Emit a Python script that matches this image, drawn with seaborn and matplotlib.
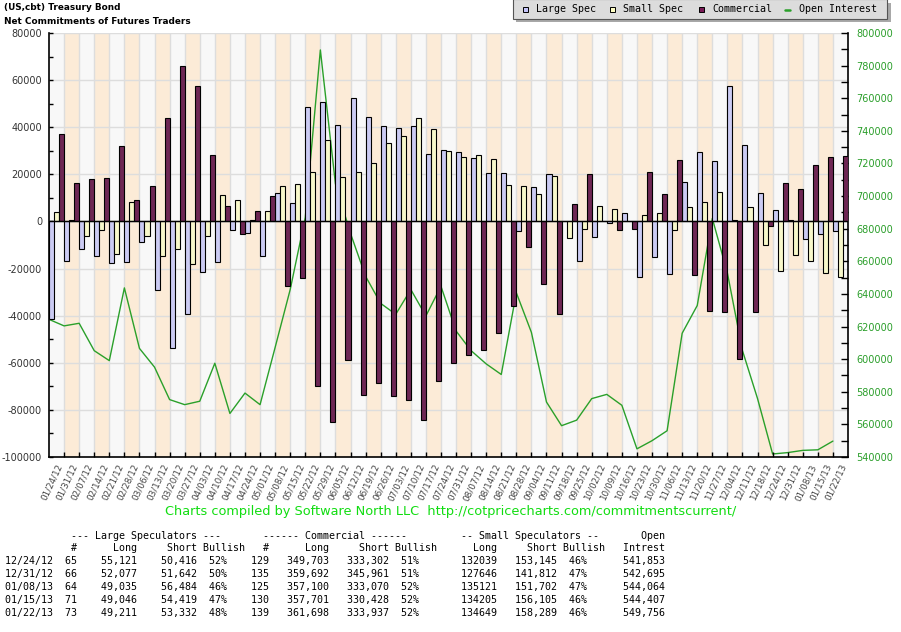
import numpy as np
import pandas as pd
import matplotlib
matplotlib.use("Agg")
import matplotlib.pyplot as plt
import seaborn as sns
from matplotlib.patches import Rectangle
from matplotlib.lines import Line2D
from matplotlib.transforms import blended_transform_factory

# ---------------- data ----------------
dates = ["01/24/12", "01/31/12", "02/07/12", "02/14/12", "02/21/12", "02/28/12", "03/06/12",
         "03/13/12", "03/20/12", "03/27/12", "04/03/12", "04/10/12", "04/17/12", "04/24/12",
         "05/01/12", "05/08/12", "05/15/12", "05/22/12", "05/29/12", "06/05/12", "06/12/12",
         "06/19/12", "06/26/12", "07/03/12", "07/10/12", "07/17/12", "07/24/12", "07/31/12",
         "08/07/12", "08/14/12", "08/21/12", "08/28/12", "09/04/12", "09/11/12", "09/18/12",
         "09/25/12", "10/02/12", "10/09/12", "10/16/12", "10/23/12", "10/30/12", "11/06/12",
         "11/13/12", "11/20/12", "11/27/12", "12/04/12", "12/11/12", "12/18/12", "12/24/12",
         "12/31/12", "01/08/13", "01/15/13", "01/22/13"]

large_spec = [-41300, -16700, -11800, -14700, -17700, -17300, -8800, -28900, -53900, -39200,
              -21500, -17300, -3800, -5100, -14700, 12200, 8000, 48400, 50900, 40800,
              52600, 44200, 40400, 39600, 40400, 28600, 30300, 29500, 26900, 20600,
              20600, -4200, 14700, 20200, 0, -16800, -6700, -800, 3400, -23600,
              -15200, -22300, 16800, 29500, 25700, 57700, 32400, 12200, 4705, 435,
              -7449, -5373, -4121]

small_spec = [4200, 800, -6300, -3800, -13900, 8400, -6300, -14700, -11800, -18100,
              -6300, 11100, 9300, 800, 4600, 15200, 16000, 21100, 34500, 18700,
              21100, 24800, 33300, 36200, 43800, 39200, 29900, 27400, 28200, 26500,
              15600, 15200, 11800, 19400, -7200, -3400, 6700, 5100, 0, 2900,
              3400, -3800, 6300, 8400, 12600, 800, 6300, -10100, -21106, -14166,
              -16581, -21900, -23640]

commercial = [37000, 16400, 18100, 18500, 32000, 9300, 15200, 43800, 65800, 57700,
              28200, 6700, -5500, 4600, 10700, -27500, -24000, -69900, -85100, -58900,
              -73700, -68600, -74100, -75600, -84100, -67800, -60200, -56800, -54700, -47200,
              -35800, -10900, -26500, -39200, 7600, 20200, 0, -3800, -3100, 21100,
              11800, 26100, -22700, -37900, -38300, -58500, -38300, -2100, 16401, 13731,
              24030, 27273, 27761]

open_interest = [624400, 620400, 622000, 605200, 599100, 643700, 606600, 595100, 575200, 572100,
                 574200, 597500, 566700, 579200, 572100, 607200, 642700, 686900, 789600, 707500,
                 677100, 650800, 634200, 627500, 642700, 626500, 644700, 617300, 605200, 597100,
                 590600, 640700, 616400, 573700, 559200, 562600, 575800, 578400, 571700, 545000,
                 550000, 556100, 615900, 632900, 686300, 652800, 605200, 575800, 541853, 542695,
                 544064, 544407, 549756]

series_names = ["Large Spec", "Small Spec", "Commercial"]

# table data
tbl_dates = ["12/24/12", "12/31/12", "01/08/13", "01/15/13", "01/22/13"]
ls_num = [65, 66, 64, 71, 73]
ls_long = [55121, 52077, 49035, 49046, 49211]
ls_short = [50416, 51642, 56484, 54419, 53332]
ls_bull = [52, 50, 46, 47, 48]
cm_num = [129, 135, 125, 130, 139]
cm_long = [349703, 359692, 357100, 357701, 361698]
cm_short = [333302, 345961, 333070, 330428, 333937]
cm_bull = [51, 51, 52, 52, 52]
ss_long = [132039, 127646, 135121, 134205, 134649]
ss_short = [153145, 141812, 151702, 156105, 158289]
ss_bull = [46, 47, 47, 46, 46]
oi_table = [541853, 542695, 544064, 544407, 549756]

# ---------------- styling ----------------
BLUE = "#c4c4fa"
YELLOW = "#ffffc4"
PURPLE = "#7a1b57"
GREEN = "#2aa02a"
LABEL_GREEN = "#2a9e2a"
BAND_ORANGE = "#fcebd7"
BAND_GREY = "#f8f8f8"
GRID = "#dddddd"

sns.set_theme(style="white")
plt.rcParams["font.family"] = ["DejaVu Sans"]

W, H = 901, 632
def fx(x):
    return x / W
def fy(y):
    return 1 - y / H

fig = plt.figure(figsize=(W / 100, H / 100), dpi=100)
fig.patch.set_facecolor("white")
L, R, T, B = 49, 848, 33, 457
ax = fig.add_axes([fx(L), fy(B), (R - L) / W, (B - T) / H])
ax2 = ax.twinx()
ax.set_zorder(ax2.get_zorder() + 1)
ax.patch.set_visible(False)
ax2.patch.set_facecolor("white")

n = len(dates)

# background bands & grid (on the lower axes)
for k in range(n):
    ax2.axvspan(k - 0.5, k + 0.5, facecolor=BAND_ORANGE if k % 2 else BAND_GREY,
                lw=0, zorder=0)
for k in range(n - 1):
    ax2.axvline(k + 0.5, color=GRID, lw=1.0, zorder=0.5)
ytr = blended_transform_factory(ax2.transAxes, ax.transData)
for v in range(-80000, 80001, 20000):
    ax2.add_line(Line2D([0, 1], [v, v], transform=ytr, color=GRID, lw=1.0, zorder=0.5))

# open interest line (behind bars)
sns.lineplot(x=np.arange(n) - 0.5, y=open_interest, ax=ax2, color=GREEN, lw=1.0,
             zorder=2, legend=False)

# bars
df = pd.DataFrame({
    "date": dates * 3,
    "series": np.repeat(series_names, n),
    "value": large_spec + small_spec + commercial,
})
sns.barplot(data=df, x="date", y="value", hue="series", order=dates,
            hue_order=series_names, palette=[BLUE, YELLOW, PURPLE],
            width=1.0, gap=0, edgecolor="black", linewidth=0.8,
            errorbar=None, legend=False, ax=ax, zorder=3)
ax.axhline(0, color="black", lw=1.0, zorder=4)

ax.set_xlim(-0.5, n - 0.5)
ax.set_ylim(-100000, 80000)
ax2.set_ylim(540000, 800000)
ax.set_xlabel("")
ax.set_ylabel("")
ax2.set_ylabel("")

# left axis
yt = list(range(-100000, 80001, 20000))
ax.set_yticks(yt)
ax.set_yticklabels([str(v) for v in yt])
ax.set_yticks(list(range(-90000, 80000, 20000)), minor=True)
ax.tick_params(axis="y", which="both", direction="in", length=3, width=1,
               color="black", labelsize=7, labelcolor="#333333", pad=5, left=True)

# bottom axis
ax.set_xticks(range(n))
ax.set_xticklabels(dates, rotation=65, ha="right", rotation_mode="anchor",
                   fontsize=6.3, color="#444444")
ax.set_xticks([k + 0.5 for k in range(n - 1)], minor=True)
ax.tick_params(axis="x", which="major", length=0, pad=4)
ax.tick_params(axis="x", which="minor", direction="in", length=3.5, width=1,
               color="black", bottom=True)

# right axis
yt2 = list(range(540000, 800001, 20000))
ax2.set_yticks(yt2)
ax2.set_yticklabels([str(v) for v in yt2])
ax2.set_yticks(list(range(550000, 800000, 20000)), minor=True)
ax2.tick_params(axis="y", which="both", direction="in", length=5, width=1,
                color="black", labelsize=7, labelcolor=LABEL_GREEN, pad=6, right=True)

for a in (ax, ax2):
    a.spines["top"].set_visible(False)
ax.spines["right"].set_visible(False)
ax2.spines["left"].set_visible(False)
ax2.spines["bottom"].set_visible(False)
for s in ("left", "bottom"):
    ax.spines[s].set_color("black")
    ax.spines[s].set_linewidth(1.2)
ax2.spines["right"].set_color("black")
ax2.spines["right"].set_linewidth(1.2)

# ---------------- titles ----------------
t1 = fig.text(fx(4), fy(7), "(US,cbt) Treasury Bond", fontsize=7, fontweight="bold",
              ha="left", va="center", color="black")
t2 = fig.text(fx(4), fy(21), "Net Commitments of Futures Traders", fontsize=7,
              fontweight="bold", ha="left", va="center", color="black")

credit = fig.text(fx(165), fy(512),
                  "Charts compiled by Software North LLC  http://cotpricecharts.com/commitmentscurrent/",
                  fontsize=10, ha="left", va="center", color="#11dd11")

fig.canvas.draw()
r = fig.canvas.get_renderer()
def fit(t, target):
    w = t.get_window_extent(r).width
    t.set_fontsize(t.get_fontsize() * target / w)
fit(t2, 186)
t1.set_fontsize(t2.get_fontsize())
fit(credit, 567)

# ---------------- legend (drawn box) ----------------
fig.patches.append(Rectangle((fx(516), fy(21.5)), (891 - 516) / W, (21.5 - 3) / H,
                             transform=fig.transFigure, facecolor="#a8a8a8",
                             edgecolor="none", zorder=1))
fig.patches.append(Rectangle((fx(513), fy(18.5)), (887 - 513) / W, (18.5 + 1) / H,
                             transform=fig.transFigure, facecolor="#dcdcdc",
                             edgecolor="#555555", lw=0.8, zorder=2))
MONO = "DejaVu Sans Mono"
leg_items = [("Large Spec", BLUE, 523), ("Small Spec", YELLOW, 610),
             ("Commercial", PURPLE, 699)]
for name, col, x0 in leg_items:
    fig.patches.append(Rectangle((fx(x0), fy(12)), 5 / W, 5 / H, transform=fig.transFigure,
                                 facecolor=col, edgecolor="black", lw=0.7, zorder=3))
    fig.text(fx(x0 + 13), fy(9), name, fontsize=7.2, family=MONO, ha="left",
             va="center", color="black", zorder=3)
fig.lines.append(Line2D([fx(785), fx(790)], [fy(9.5), fy(9.5)], transform=fig.transFigure,
                        color=GREEN, lw=1.8, zorder=3))
fig.text(fx(799), fy(9), "Open Interest", fontsize=7.2, family=MONO, ha="left",
         va="center", color="black", zorder=3)

# ---------------- table ----------------
hdr1 = (" " * 11 + "--- Large Speculators ---" + " " * 7 + "------ Commercial ------"
        + " " * 9 + "-- Small Speculators --" + " " * 7 + "Open")
hdr2 = ("{:>12}{:>10}{:>10} Bullish{:>4}{:>10}{:>10} Bullish{:>10}{:>10} Bullish{:>10}"
        .format("#", "Long", "Short", "#", "Long", "Short", "Long", "Short", "Intrest"))
rows = []
for i in range(len(tbl_dates)):
    rows.append("{:<8}{:>4}{:>10}{:>10}{:>4}%{:>7}{:>10}{:>10}{:>4}%{:>13}{:>10}{:>4}%{:>13}".format(
        tbl_dates[i], ls_num[i], f"{ls_long[i]:,}", f"{ls_short[i]:,}", ls_bull[i],
        cm_num[i], f"{cm_long[i]:,}", f"{cm_short[i]:,}", cm_bull[i],
        ss_long[i], f"{ss_short[i]:,}", ss_bull[i], f"{oi_table[i]:,}"))
lines = [hdr1, hdr2] + rows
ys = [536, 548, 561, 574, 587, 600, 613]
for yy, s in zip(ys, lines):
    fig.text(fx(5), fy(yy), s, fontsize=7.2, family=MONO, ha="left", va="center",
             color="black")

fig.savefig("out.png", dpi=100, facecolor="white")
